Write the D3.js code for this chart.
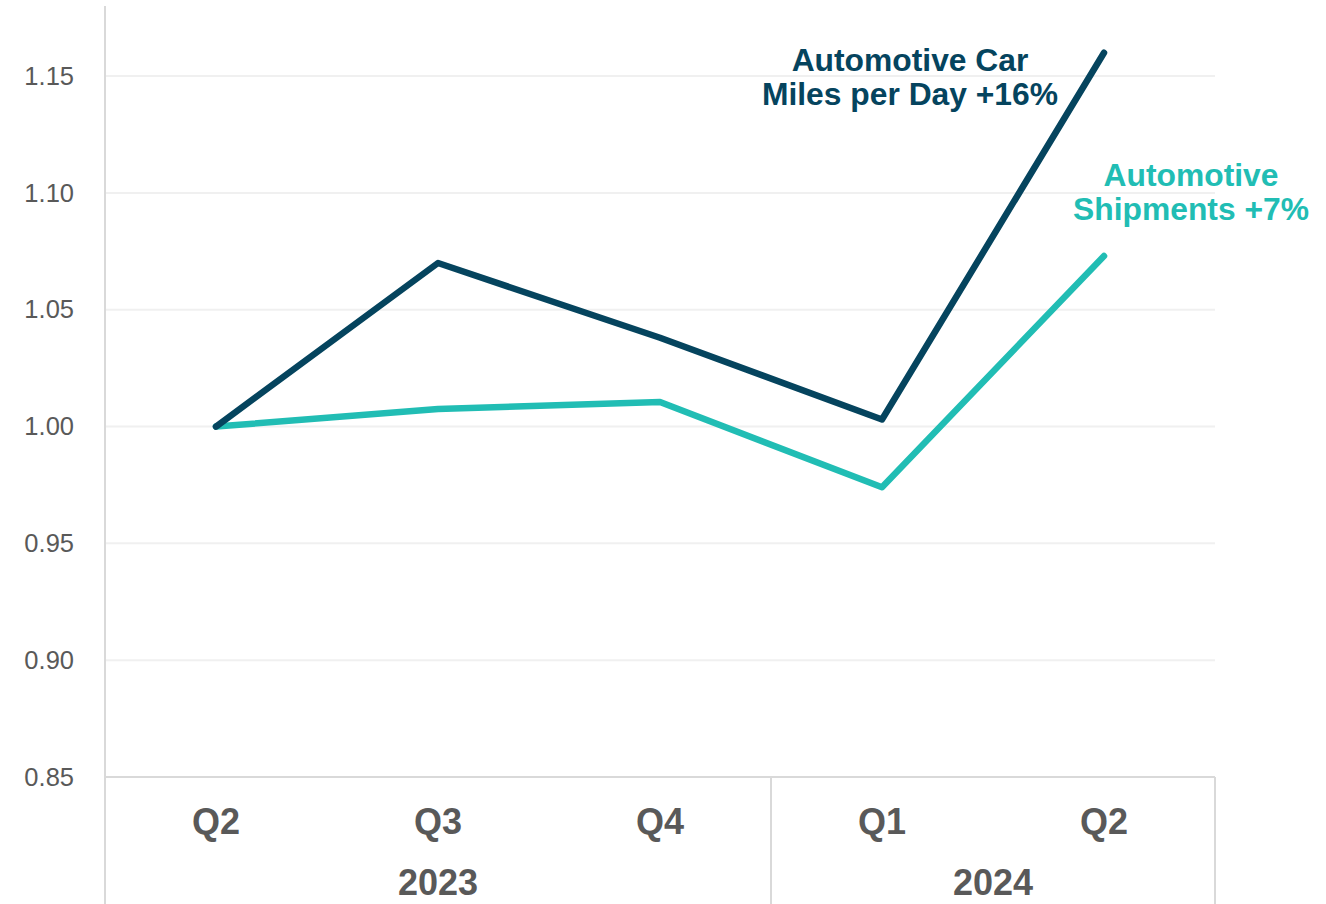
<!DOCTYPE html>
<html>
<head>
<meta charset="utf-8">
<script src="https://cdn.jsdelivr.net/npm/d3@7"></script>
<style>
  html, body { margin: 0; padding: 0; background: #fff; }
  svg { display: block; font-family: Arial, "Liberation Sans", sans-serif; }
</style>
</head>
<body>
<svg id="chart" width="1326" height="904"></svg>
<script>
// Quarterly index (Q2 2023 = 1.00)
const quarters = ["Q2", "Q3", "Q4", "Q1", "Q2"];
const years = [
  { label: "2023", from: 0, to: 2 },
  { label: "2024", from: 3, to: 4 }
];
const carMilesPerDay = [1.000, 1.070, 1.038, 1.003, 1.160];
const shipments = [1.000, 1.0075, 1.0105, 0.974, 1.073];
const yTicks = [0.85, 0.90, 0.95, 1.00, 1.05, 1.10, 1.15];

const carLabel = ["Automotive Car", "Miles per Day +16%"];
const shipLabel = ["Automotive", "Shipments +7%"];

const colors = { car: "#05445E", ship: "#21BDB4", text: "#595959", axis: "#d9d9d9", grid: "#f0f0f0" };

const svg = d3.select("#chart");
const W = 1326, H = 904;
const plot = { left: 105, right: 1215, top: 6, bottom: 777 };

const x = d3.scaleBand()
  .domain(d3.range(quarters.length))
  .range([plot.left, plot.right])
  .paddingInner(0).paddingOuter(0);
const cx = i => x(i) + x.bandwidth() / 2;

const y = d3.scaleLinear().domain([0.85, 1.18]).range([plot.bottom, plot.top]);

// Horizontal gridlines
svg.append("g")
  .selectAll("line")
  .data(yTicks.slice(1))
  .join("line")
  .attr("x1", plot.left).attr("x2", plot.right)
  .attr("y1", d => y(d)).attr("y2", d => y(d))
  .attr("stroke", colors.grid).attr("stroke-width", 2);

// Y axis
const yAxis = svg.append("g")
  .attr("transform", `translate(${plot.left},0)`)
  .call(d3.axisLeft(y).tickValues(yTicks).tickFormat(d3.format(".2f")).tickSize(0).tickPadding(31));
yAxis.select(".domain").remove();
yAxis.selectAll("text")
  .attr("fill", colors.text)
  .style("font-size", "25.5px")
  .style("font-family", "Arial, 'Liberation Sans', sans-serif");

// Left axis line running down through the category area
svg.append("line")
  .attr("x1", plot.left).attr("x2", plot.left)
  .attr("y1", plot.top).attr("y2", H)
  .attr("stroke", colors.axis).attr("stroke-width", 2);

// Baseline
svg.append("line")
  .attr("x1", plot.left).attr("x2", plot.right)
  .attr("y1", plot.bottom).attr("y2", plot.bottom)
  .attr("stroke", colors.axis).attr("stroke-width", 2);

// Year group separators
years.forEach(g => {
  const xr = x(g.to) + x.bandwidth();
  svg.append("line")
    .attr("x1", xr).attr("x2", xr)
    .attr("y1", plot.bottom).attr("y2", H)
    .attr("stroke", colors.axis).attr("stroke-width", 2);
});

// Quarter labels
svg.append("g")
  .selectAll("text")
  .data(quarters)
  .join("text")
  .attr("x", (d, i) => cx(i))
  .attr("y", 834)
  .attr("text-anchor", "middle")
  .attr("fill", colors.text)
  .style("font-size", "36px")
  .style("font-weight", "bold")
  .text(d => d);

// Year labels
svg.append("g")
  .selectAll("text")
  .data(years)
  .join("text")
  .attr("x", d => (x(d.from) + x(d.to) + x.bandwidth()) / 2)
  .attr("y", 895)
  .attr("text-anchor", "middle")
  .attr("fill", colors.text)
  .style("font-size", "36px")
  .style("font-weight", "bold")
  .text(d => d.label);

// Series lines
const line = d3.line().x((d, i) => cx(i)).y(d => y(d));
[[shipments, colors.ship], [carMilesPerDay, colors.car]].forEach(([vals, c]) => {
  svg.append("path")
    .datum(vals)
    .attr("d", line)
    .attr("fill", "none")
    .attr("stroke", c)
    .attr("stroke-width", 6.5)
    .attr("stroke-linecap", "round")
    .attr("stroke-linejoin", "round");
});

// Series annotations
function annotate(lines, xc, yBase, color) {
  const t = svg.append("text")
    .attr("text-anchor", "middle")
    .attr("fill", color)
    .style("font-size", "31.8px")
    .style("font-weight", "bold");
  lines.forEach((s, i) => {
    t.append("tspan").attr("x", xc).attr("y", yBase + i * 34).text(s);
  });
}
annotate(carLabel, 910, 71, colors.car);
annotate(shipLabel, 1191, 186, colors.ship);
</script>
</body>
</html>
